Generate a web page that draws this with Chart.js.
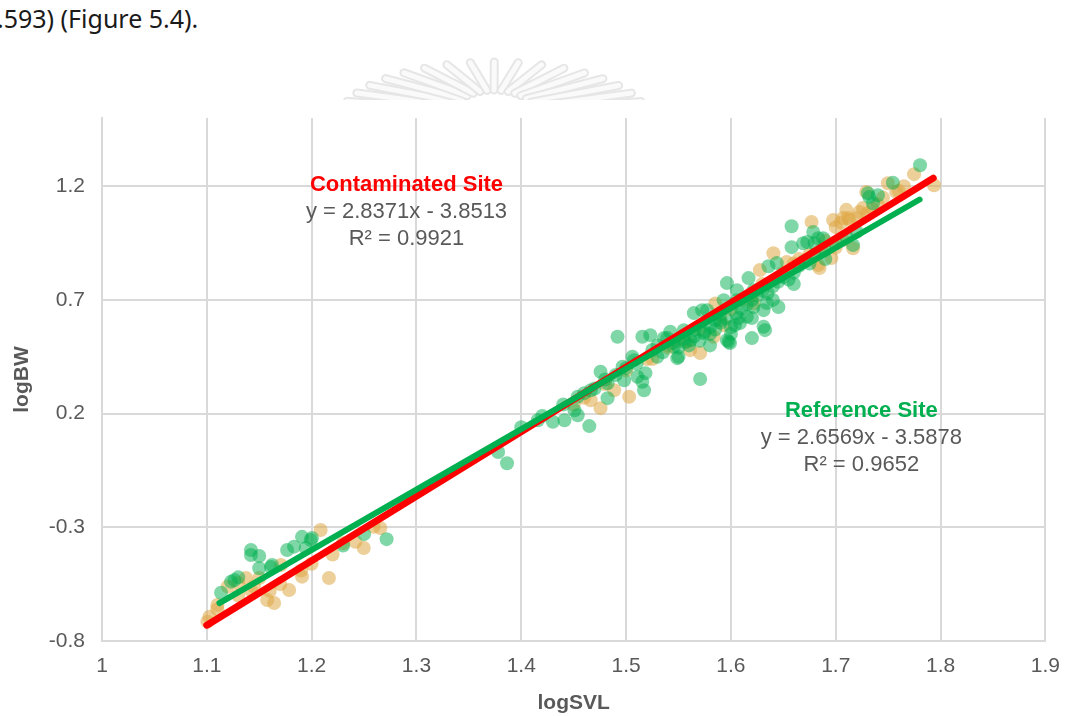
<!DOCTYPE html>
<html>
<head>
<meta charset="utf-8">
<script src="https://cdn.jsdelivr.net/npm/chart.js@4.4.1/dist/chart.umd.min.js"></script>
<style>
  html, body { margin: 0; padding: 0; background: #fff; }
  #page { position: relative; width: 1073px; height: 716px; overflow: hidden; }
  #caption {
    position: absolute; left: -3px; top: 1px;
    font-family: "Noto Sans", "DejaVu Sans", sans-serif; font-size: 25px; color: #1a1a1a;
    white-space: nowrap;
  }
  #seal { position: absolute; left: 0; top: 0; }
  #wrap { position: absolute; left: 0; top: 0; width: 1073px; height: 716px; }
</style>
</head>
<body>
<div id="page">
  <div id="caption">.593) (Figure 5.4).</div>
  <svg id="seal" width="1073" height="100"></svg>
  <div id="wrap"><canvas id="chart" width="1073" height="716"></canvas></div>
</div>
<script>
// ── axis ticks ─────────────────────────────────
const xTicks = [1, 1.1, 1.2, 1.3, 1.4, 1.5, 1.6, 1.7, 1.8, 1.9];
const yTicks = [-0.8, -0.3, 0.2, 0.7, 1.2];

// ── contaminated site (logSVL, logBW) ──────────
const contamX = [
  1.1025, 1.1006, 1.1101, 1.1374, 1.1421, 1.1500, 1.1576, 1.1642, 1.1785, 1.1706,
  1.1908, 1.2086, 1.2165, 1.2418, 1.2497, 1.2655, 1.2592, 1.1200, 1.1300,
  1.4756, 1.5029, 1.4886, 1.5706, 1.5611, 1.5836, 1.5931, 1.4662, 1.5582,
  1.6769, 1.6975, 1.7070, 1.7260, 1.6405, 1.6276, 1.6845, 1.6959, 1.7165, 1.7747,
  1.7937, 1.7497, 1.7291, 1.7576, 1.7225, 1.7118, 1.6864, 1.7070, 1.6833, 1.7101,
  1.7133, 1.6532, 1.5851, 1.6216, 1.6100, 1.6650, 1.5400, 1.5250,
  1.7000, 1.7050, 1.7200, 1.7300, 1.7400, 1.7450, 1.7600, 1.7650, 1.7350, 1.6900,
  1.7000, 1.6750, 1.6600, 1.6500, 1.6300, 1.6200, 1.6000, 1.5900, 1.5700, 1.5500,
  1.5400, 1.5200, 1.5000, 1.4800, 1.4600, 1.4500, 1.1100, 1.1300, 1.1450, 1.1600,
  1.1700, 1.1900, 1.2000, 1.2200, 1.2300
];
const contamY = [
  -0.693, -0.715, -0.642, -0.523, -0.576, -0.523, -0.620, -0.633, -0.576, -0.466,
  -0.517, -0.312, -0.523, -0.364, -0.391, -0.303, -0.298, -0.560, -0.545,
  0.224, 0.274, 0.303, 0.466, 0.479, 0.538, 0.589, 0.259, 0.516,
  1.043, 1.051, 1.060, 1.104, 0.905, 0.831, 0.840, 0.884, 0.927, 1.253,
  1.204, 1.213, 1.175, 1.175, 1.087, 1.060, 0.919, 0.963, 0.853, 1.096,
  1.051, 0.867, 0.684, 0.684, 0.700, 0.880, 0.500, 0.440,
  1.020, 1.040, 1.060, 1.080, 1.120, 1.150, 1.180, 1.200, 1.100, 0.960,
  0.930, 0.900, 0.860, 0.820, 0.770, 0.720, 0.660, 0.630, 0.570, 0.520,
  0.490, 0.440, 0.390, 0.330, 0.270, 0.240, -0.660, -0.600, -0.560, -0.580,
  -0.550, -0.490, -0.460, -0.420, -0.370
];

// ── reference site (logSVL, logBW) ─────────────
const refX = [
  1.1136, 1.1231, 1.1263, 1.1421, 1.1421, 1.1500, 1.1611, 1.1623, 1.1766, 1.1832,
  1.1908, 1.1991, 1.2003, 1.1943, 1.2715, 1.3779, 1.3864, 1.4301, 1.4538, 1.4649,
  1.4756, 1.4823, 1.4918, 1.5060, 1.5706, 1.5155, 1.5231, 1.5361, 1.5421, 1.5488,
  1.5564, 1.5646, 1.5772, 1.5978, 1.5184, 1.5108, 1.4966, 1.4981, 1.5155, 1.5962,
  1.6057, 1.6216, 1.6200, 1.6086, 1.5393, 1.5551, 1.6579, 1.6785, 1.6690, 1.6579,
  1.6358, 1.6168, 1.5931, 1.6453, 1.6342, 1.6311, 1.6038, 1.5991, 1.5725, 1.6798,
  1.6880, 1.7804, 1.7545, 1.7402, 1.7320, 1.7355, 1.6833, 1.7165, 1.6437, 1.6057,
  1.6216, 1.6311, 1.6152, 1.6325, 1.5962, 1.5848, 1.6073, 1.6728, 1.7307, 1.4538,
  1.4664, 1.5076, 1.5298, 1.5456, 1.5614, 1.5804, 1.5899, 1.5171, 1.4823, 1.4412,
  1.4507, 1.5646, 1.5741, 1.4158,
  1.5250, 1.5300, 1.5350, 1.5450, 1.5500, 1.5550, 1.5600, 1.5650, 1.5700, 1.5750,
  1.5800, 1.5850, 1.5900, 1.5950, 1.6000, 1.6050, 1.6100, 1.6150, 1.6200, 1.6250,
  1.6300, 1.6350, 1.6400, 1.6450, 1.6500, 1.6550, 1.6600, 1.6650, 1.6700, 1.6750,
  1.6800, 1.6900, 1.7000, 1.7100, 1.7200, 1.6900, 1.6600, 1.6200, 1.6400, 1.5800,
  1.6000, 1.5500, 1.5000, 1.5100, 1.4900, 1.4800, 1.4700, 1.4600, 1.4400, 1.4200,
  1.4000, 1.2300, 1.2500, 1.1500, 1.1300
];
const refY = [
  -0.588, -0.539, -0.532, -0.400, -0.422, -0.426, -0.475, -0.466, -0.400, -0.385,
  -0.342, -0.356, -0.347, -0.391, -0.352, 0.031, -0.018, 0.164, 0.193, 0.145,
  0.384, 0.268, 0.538, 0.450, 0.352, 0.538, 0.545, 0.532, 0.560, 0.444,
  0.516, 0.642, 0.655, 0.516, 0.378, 0.362, 0.406, 0.347, 0.340, 0.774,
  0.743, 0.669, 0.532, 0.598, 0.532, 0.567, 1.024, 0.999, 0.949, 0.932,
  0.848, 0.796, 0.699, 0.669, 0.686, 0.582, 0.589, 0.510, 0.655, 0.949,
  0.971, 1.292, 1.215, 1.160, 1.153, 1.125, 0.971, 0.941, 0.862, 0.699,
  0.743, 0.655, 0.626, 0.567, 0.523, 0.611, 0.620, 0.955, 1.169, 0.274,
  0.303, 0.435, 0.450, 0.494, 0.523, 0.582, 0.611, 0.303, 0.333, 0.171,
  0.215, 0.567, 0.553, 0.171,
  0.480, 0.500, 0.470, 0.510, 0.490, 0.530, 0.500, 0.540, 0.520, 0.560,
  0.550, 0.570, 0.600, 0.620, 0.580, 0.640, 0.660, 0.680, 0.700, 0.720,
  0.740, 0.730, 0.760, 0.780, 0.800, 0.790, 0.820, 0.850, 0.870, 0.860,
  0.900, 0.920, 0.950, 0.980, 1.000, 0.880, 0.770, 0.620, 0.700, 0.500,
  0.550, 0.450, 0.400, 0.420, 0.370, 0.350, 0.310, 0.290, 0.240, 0.190,
  0.140, -0.380, -0.330, -0.480, -0.520
];

// ── fitted trend lines: y = slope * x + intercept ──
const contamSlope = 2.8371, contamIntercept = -3.8513, contamR2 = 0.9921;
const contamLineX = [1.100, 1.793];
const refSlope = 2.6569, refIntercept = -3.5878, refR2 = 0.9652;
const refLineX = [1.112, 1.780];

const pairs = (xs, ys) => xs.map((x, i) => ({ x, y: ys[i] }));
const fitLine = (xs, m, b) => xs.map(x => ({ x, y: m * x + b }));
const fmtEq = (m, b) => `y = ${m.toFixed(4)}x - ${Math.abs(b).toFixed(4)}`;

// text boxes sit at data coordinates (center of the title line)
const notes = [
  { title: 'Contaminated Site', color: '#ff0000', x: 1.2905, y: 1.204,
    lines: [fmtEq(contamSlope, contamIntercept), `R² = ${contamR2.toFixed(4)}`] },
  { title: 'Reference Site', color: '#00b050', x: 1.7244, y: 0.211,
    lines: [fmtEq(refSlope, refIntercept), `R² = ${refR2.toFixed(4)}`] },
];

const FONT = '"Liberation Sans", Arial, sans-serif';
const GREY = '#595959';

const notePlugin = {
  id: 'fitNotes',
  afterDatasetsDraw(chart) {
    const { ctx, scales } = chart;
    ctx.save();
    ctx.textAlign = 'center';
    ctx.textBaseline = 'middle';
    notes.forEach(n => {
      const px = scales.x.getPixelForValue(n.x);
      const py = scales.y.getPixelForValue(n.y);
      ctx.font = `bold 22px ${FONT}`;
      ctx.fillStyle = n.color;
      ctx.fillText(n.title, px, py);
      ctx.font = `22px ${FONT}`;
      ctx.fillStyle = GREY;
      n.lines.forEach((t, i) => ctx.fillText(t, px, py + 27 * (i + 1)));
    });
    ctx.restore();
  },
};

// faint emblem rays behind the chart's top edge
(function drawSeal() {
  const svg = document.getElementById('seal');
  const cx = 494, cy = 120;
  let out = '';
  for (let a = 190; a <= 350; a += 8.9) {
    const r = a * Math.PI / 180;
    const x1 = cx + 46 * Math.cos(r), y1 = cy + 30 * Math.sin(r);
    const x2 = cx + 155 * Math.cos(r), y2 = cy + 58 * Math.sin(r);
    out += `<line x1="${x1}" y1="${y1}" x2="${x2}" y2="${y2}" stroke="#e6e6e6" stroke-width="9" stroke-linecap="round"/>`;
    out += `<line x1="${x1}" y1="${y1}" x2="${x2}" y2="${y2}" stroke="#fafafa" stroke-width="5" stroke-linecap="round"/>`;
  }
  svg.innerHTML = out;
})();

new Chart(document.getElementById('chart'), {
  type: 'scatter',
  data: {
    datasets: [
      {
        type: 'line', label: 'Reference fit', data: fitLine(refLineX, refSlope, refIntercept),
        borderColor: '#00b050', borderWidth: 6, borderCapStyle: 'round', pointRadius: 0, fill: false,
      },
      {
        type: 'line', label: 'Contaminated fit', data: fitLine(contamLineX, contamSlope, contamIntercept),
        borderColor: '#ff0000', borderWidth: 7, borderCapStyle: 'round', pointRadius: 0, fill: false,
      },
      {
        label: 'Reference Site', data: pairs(refX, refY),
        backgroundColor: 'rgba(0,176,80,0.5)', borderWidth: 0, pointRadius: 7,
      },
      {
        label: 'Contaminated Site', data: pairs(contamX, contamY),
        backgroundColor: 'rgba(222,168,70,0.55)', borderWidth: 0, pointRadius: 7,
      },
    ],
  },
  options: {
    responsive: false,
    animation: false,
    layout: { padding: { top: 118, right: 23, left: 0, bottom: 0 } },
    plugins: { legend: { display: false }, tooltip: { enabled: false } },
    scales: {
      x: {
        type: 'linear', min: 1, max: 1.9,
        afterBuildTicks: axis => { axis.ticks = xTicks.map(v => ({ value: v })); },
        afterFit: axis => { axis.height = 75; },
        grid: { color: '#d9d9d9', lineWidth: 2, drawTicks: false },
        border: { color: '#d9d9d9', width: 2 },
        ticks: { color: GREY, font: { family: FONT, size: 21 }, padding: 13, callback: v => String(v) },
        title: { display: true, text: 'logSVL', color: GREY, font: { family: FONT, size: 21, weight: 'bold' }, padding: { top: 0, bottom: 0 } },
      },
      y: {
        type: 'linear', min: -0.8, max: 1.5,
        afterBuildTicks: axis => { axis.ticks = yTicks.map(v => ({ value: v })); },
        afterFit: axis => { axis.width = 102; },
        grid: { color: '#d9d9d9', lineWidth: 2, drawTicks: false },
        border: { color: '#d9d9d9', width: 2 },
        ticks: { color: GREY, font: { family: FONT, size: 21 }, padding: 17, callback: v => String(v) },
        title: { display: true, text: 'logBW', color: GREY, font: { family: FONT, size: 21, weight: 'bold' }, padding: { top: 10, bottom: 0 } },
      },
    },
  },
  plugins: [notePlugin],
});
</script>
</body>
</html>
